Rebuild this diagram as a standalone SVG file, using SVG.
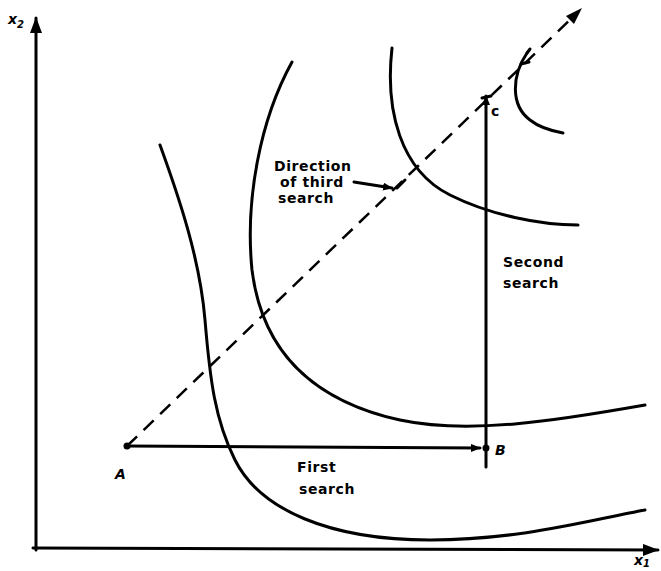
<svg xmlns="http://www.w3.org/2000/svg" width="661" height="571" viewBox="0 0 661 571">
<style>
.ln{fill:none;stroke:#000;stroke-width:3;stroke-linecap:round}
.cv{fill:none;stroke:#000;stroke-width:3;stroke-linecap:round}
.ds{fill:none;stroke:#000;stroke-width:2.5;stroke-dasharray:14 9}
.t{font-family:"DejaVu Sans",sans-serif;font-weight:bold;font-size:14px;letter-spacing:0.6px;fill:#000}
.ti{font-family:"DejaVu Sans",sans-serif;font-weight:bold;font-style:italic;font-size:14px;fill:#000}
</style>
<defs>
<marker id="ah" markerWidth="10" markerHeight="8" refX="9" refY="4" orient="auto" markerUnits="userSpaceOnUse">
<path d="M0,0 L10,4 L0,8 Z" fill="#000"/>
</marker>
<marker id="ahb" markerWidth="16" markerHeight="12" refX="15" refY="6" orient="auto" markerUnits="userSpaceOnUse">
<path d="M0,0 L16,6 L0,12 Z" fill="#000"/>
</marker>
</defs>
<g id="axes">
<path class="ln" d="M36,550 L36,18" marker-end="url(#ahb)"/>
<path class="ln" d="M33,548 L658,550" marker-end="url(#ahb)"/>
<text class="ti" x="8" y="24">x<tspan font-size="10" dy="4">2</tspan></text>
<text class="ti" x="634" y="565">x<tspan font-size="10" dy="2">1</tspan></text>
</g>
<g id="contours">
<path class="cv" d="M160,145 C180,200 200,260 205,320 C210,380 215,420 235,460 C260,510 330,540 430,540 C520,540 590,520 645,510"/>
<path class="cv" d="M292,62 C260,120 245,200 252,270 C262,350 310,400 400,420 C470,435 560,420 645,405"/>
<path class="cv" d="M392,48 C385,110 400,170 450,195 C490,215 540,225 578,225"/>
<path class="cv" d="M527,53 C512,75 510,105 530,120 C540,128 552,131 563,133"/>
<path class="cv" d="M527,53 L530,49 M521,64 L529,62" stroke-width="2.5"/>
</g>
<g id="connectors">
<path class="ds" d="M127,446 L574,16"/>
<path d="M582,8 L566,16 L574,24 Z" fill="#000"/>
<path class="ln" d="M127,446 L480,448" marker-end="url(#ah)"/>
<path class="ln" d="M486,467 L486,96" marker-end="url(#ah)"/>
<path class="ln" d="M482,98 L491,96" stroke-width="2.5"/>
<path class="ln" d="M354,182 L392,188" stroke-width="2.5" marker-end="url(#ah)"/>
<path class="ln" d="M397,188 L405,180" stroke-width="2.5"/>
</g>
<g id="points">
<circle cx="127" cy="446" r="3.5" fill="#000"/>
<circle cx="486" cy="448" r="3.5" fill="#000"/>
<text class="ti" x="115" y="479">A</text>
<text class="ti" x="495" y="455">B</text>
<text class="t" x="491" y="116">c</text>
</g>
<g id="labels">
<text class="t" x="274" y="171">Direction</text>
<text class="t" x="280" y="187">of third</text>
<text class="t" x="278" y="203">search</text>
<text class="t" x="503" y="267">Second</text>
<text class="t" x="503" y="288">search</text>
<text class="t" x="297" y="472">First</text>
<text class="t" x="299" y="494">search</text>
</g>
</svg>
